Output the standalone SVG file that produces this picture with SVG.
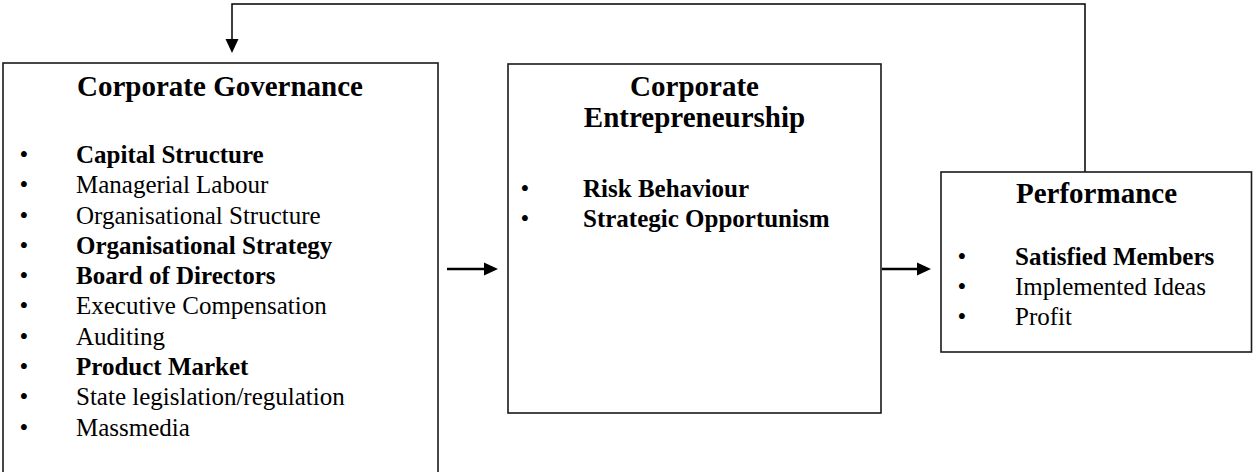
<svg xmlns="http://www.w3.org/2000/svg" width="1253" height="472" viewBox="0 0 1253 472">
  <defs>
    <marker id="arrow" markerUnits="userSpaceOnUse" markerWidth="15" markerHeight="14" refX="0" refY="7" orient="auto">
      <path d="M0,0.5 L14,7 L0,13.5 z" fill="#000"/>
    </marker>
    <style>
      .box { fill: #fff; stroke: #1a1a1a; stroke-width: 1.6; }
      .t { font-family: "Liberation Serif", "Times New Roman", serif; fill: #000; }
      .title { font-size: 29px; font-weight: bold; text-anchor: middle; }
      .item { font-size: 25px; }
      .b { font-weight: bold; }
      .bul { font-size: 25px; text-anchor: middle; }
      .conn { fill: none; stroke: #000; stroke-width: 1.5; }
      .arr { fill: none; stroke: #000; stroke-width: 2.5; }
    </style>
  </defs>

  <g id="connectors">
    <path class="conn" d="M1085,172 V4 H232 V39" marker-end="url(#arrow)"/>
    <line class="arr" x1="447" y1="269" x2="484" y2="269" marker-end="url(#arrow)"/>
    <line class="arr" x1="882" y1="269" x2="917" y2="269" marker-end="url(#arrow)"/>
  </g>

  <g id="governance">
    <rect class="box" x="3" y="63" width="435" height="420"/>
    <text class="t title" x="220" y="96">Corporate Governance</text>
    <g class="t bul">
      <text x="24" y="163">•</text>
      <text x="24" y="193">•</text>
      <text x="24" y="224">•</text>
      <text x="24" y="254">•</text>
      <text x="24" y="284">•</text>
      <text x="24" y="314">•</text>
      <text x="24" y="345">•</text>
      <text x="24" y="375">•</text>
      <text x="24" y="405">•</text>
      <text x="24" y="436">•</text>
    </g>
    <text class="t item b" x="76" y="163">Capital Structure</text>
    <text class="t item" x="76" y="193">Managerial Labour</text>
    <text class="t item" x="76" y="224">Organisational Structure</text>
    <text class="t item b" x="76" y="254">Organisational Strategy</text>
    <text class="t item b" x="76" y="284">Board of Directors</text>
    <text class="t item" x="76" y="314">Executive Compensation</text>
    <text class="t item" x="76" y="345">Auditing</text>
    <text class="t item b" x="76" y="375">Product Market</text>
    <text class="t item" x="76" y="405">State legislation/regulation</text>
    <text class="t item" x="76" y="436">Massmedia</text>
  </g>

  <g id="entrepreneurship">
    <rect class="box" x="508" y="64" width="373" height="349"/>
    <text class="t title" x="694.5" y="96">Corporate</text>
    <text class="t title" x="694.5" y="127">Entrepreneurship</text>
    <text class="t bul" x="525" y="197">•</text>
    <text class="t bul" x="525" y="227">•</text>
    <text class="t item b" x="583" y="197">Risk Behaviour</text>
    <text class="t item b" x="583" y="227">Strategic Opportunism</text>
  </g>

  <g id="performance">
    <rect class="box" x="941" y="172" width="310.5" height="180"/>
    <text class="t title" x="1096.5" y="203">Performance</text>
    <text class="t bul" x="962" y="265">•</text>
    <text class="t bul" x="962" y="295">•</text>
    <text class="t bul" x="962" y="325">•</text>
    <text class="t item b" x="1015" y="265">Satisfied Members</text>
    <text class="t item" x="1015" y="295">Implemented Ideas</text>
    <text class="t item" x="1015" y="325">Profit</text>
  </g>
</svg>
